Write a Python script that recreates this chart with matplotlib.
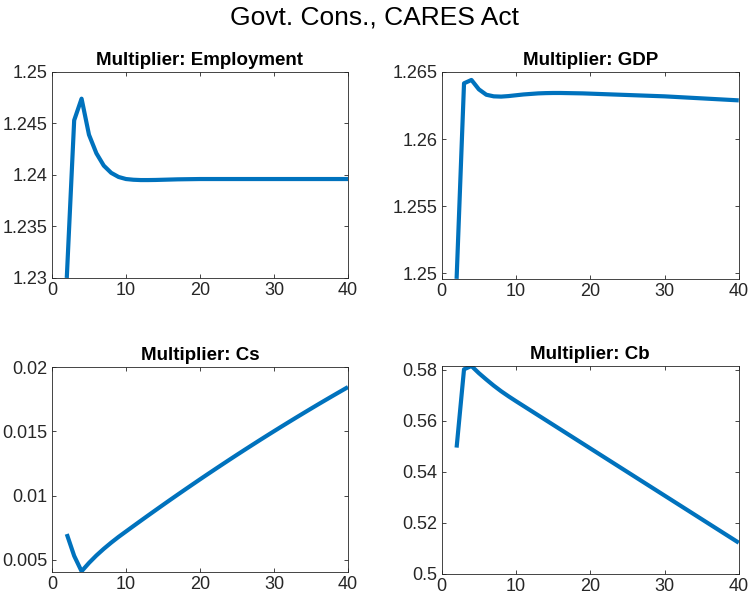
import numpy as np
import matplotlib.pyplot as plt

plt.rcParams['font.family'] = ['Liberation Sans', 'DejaVu Sans']

x = np.arange(2, 41)

emp = [1.2300, 1.2453, 1.2474, 1.2439, 1.2421, 1.2409, 1.2402, 1.2398, 1.2396,
       1.23953, 1.23950, 1.23950, 1.23951, 1.23953, 1.23955, 1.23957, 1.23958,
       1.23959, 1.23960, 1.23960, 1.23960, 1.23960, 1.23960, 1.23960, 1.23960,
       1.23960, 1.23960, 1.23960, 1.23960, 1.23960, 1.23960, 1.23960, 1.23960,
       1.23960, 1.23960, 1.23960, 1.23960, 1.23960, 1.23960]

gdp = [1.2496, 1.26415, 1.26440, 1.26370, 1.26330, 1.26318, 1.26316, 1.26320,
       1.26326, 1.26332, 1.26336, 1.26340, 1.26342, 1.26343, 1.26343, 1.26342,
       1.26341, 1.26340, 1.26338, 1.26336, 1.26334, 1.26332, 1.26330, 1.26328,
       1.26326, 1.26324, 1.26322, 1.26320, 1.26318, 1.26315, 1.26312, 1.26309,
       1.26306, 1.26303, 1.26300, 1.26297, 1.26294, 1.26291, 1.26288]

cs = [0.0070, 0.0053, 0.0041, 0.00475, 0.00533, 0.00585, 0.00633, 0.00678, 0.0072,
      0.00762, 0.008037, 0.008451, 0.008861, 0.009269, 0.009674, 0.010075,
      0.010473, 0.010868, 0.011261, 0.01165, 0.012035, 0.012418, 0.012798,
      0.013175, 0.013548, 0.013918, 0.014286, 0.01465, 0.015011, 0.015369,
      0.015724, 0.016076, 0.016424, 0.01677, 0.017113, 0.017452, 0.017788,
      0.018121, 0.018452]

cb = [0.5495, 0.5802, 0.5815, 0.5787, 0.5762, 0.5738, 0.5716, 0.5696, 0.5677,
      0.56585, 0.5640, 0.56215, 0.5603, 0.55845, 0.5566, 0.55475, 0.5529,
      0.55105, 0.5492, 0.54735, 0.5455, 0.54365, 0.5418, 0.53995, 0.5381,
      0.53625, 0.5344, 0.53255, 0.5307, 0.52885, 0.5270, 0.52515, 0.5233,
      0.52145, 0.5196, 0.51775, 0.5159, 0.51405, 0.5122]

titles = ['Multiplier: Employment', 'Multiplier: GDP', 'Multiplier: Cs', 'Multiplier: Cb']
series = [emp, gdp, cs, cb]
ylims = [(1.23, 1.25), (1.24958, 1.265), (0.00404, 0.02), (0.5, 0.5815)]
yticks = [[1.23, 1.235, 1.24, 1.245, 1.25],
          [1.25, 1.255, 1.26, 1.265],
          [0.005, 0.01, 0.015, 0.02],
          [0.5, 0.52, 0.54, 0.56, 0.58]]
ylabels = [['1.23', '1.235', '1.24', '1.245', '1.25'],
           ['1.25', '1.255', '1.26', '1.265'],
           ['0.005', '0.01', '0.015', '0.02'],
           ['0.5', '0.52', '0.54', '0.56', '0.58']]

# axes boxes in figure fractions
boxes = [[0.0693, 0.536, 0.3947, 0.344],
         [0.589, 0.534, 0.396, 0.346],
         [0.0693, 0.045, 0.3947, 0.342],
         [0.589, 0.042, 0.396, 0.347]]

fig = plt.figure(figsize=(7.5, 5.99), dpi=100)
fig.suptitle('Govt. Cons., CARES Act', fontsize=19, y=0.99)

for i in range(4):
    ax = fig.add_axes(boxes[i])
    ax.plot(x, series[i], color='#0072BD', linewidth=3, solid_capstyle='butt')
    ax.set_xlim(0, 40)
    ax.set_ylim(*ylims[i])
    ax.set_xticks([0, 10, 20, 30, 40])
    ax.set_yticks(yticks[i])
    ax.set_yticklabels(ylabels[i])
    ax.set_title(titles[i], fontsize=13.5, fontweight='bold', pad=5)
    ax.tick_params(direction='in', top=True, right=True, length=3, width=0.6,
                   labelsize=13, colors='#262626', pad=3)
    for sp in ax.spines.values():
        sp.set_color('#262626')
        sp.set_linewidth(0.6)

fig.savefig('out.png', dpi=100)
